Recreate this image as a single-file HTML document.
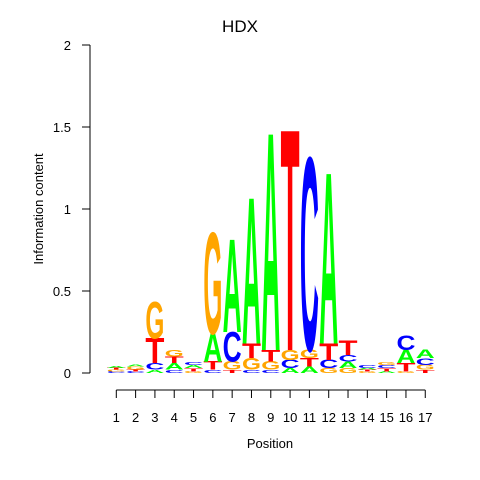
<!DOCTYPE html>
<html><head><meta charset="utf-8"><style>
html,body{margin:0;padding:0;background:#fff}
svg{display:block;font-family:"Liberation Sans",sans-serif}
</style></head><body>
<svg id="chart" width="480" height="480" viewBox="0 0 480 480" xmlns="http://www.w3.org/2000/svg">
<text x="240" y="32" text-anchor="middle" font-size="17">HDX</text>
<g id="yaxis"></g>
<g id="xaxis"></g>
<text x="270" y="448" text-anchor="middle" font-size="13">Position</text>
<text transform="translate(43,209) rotate(-90)" text-anchor="middle" font-size="13">Information content</text>
<g id="logo"></g>
</svg>
<script>
const positions = [1,2,3,4,5,6,7,8,9,10,11,12,13,14,15,16,17];
// stacks bottom-to-top: [letter, bits]
const stacks = [
 [["C",0.01],["G",0.01],["T",0.01],["A",0.01]],
 [["C",0.01],["T",0.01],["G",0.02],["A",0.01]],
 [["A",0.02],["C",0.04],["T",0.15],["G",0.22]],
 [["C",0.02],["A",0.04],["T",0.04],["G",0.04]],
 [["G",0.01],["T",0.02],["A",0.02],["C",0.02]],
 [["C",0.02],["T",0.05],["A",0.17],["G",0.61]],
 [["T",0.02],["G",0.05],["C",0.18],["A",0.56]],
 [["C",0.02],["G",0.07],["T",0.09],["A",0.88]],
 [["C",0.02],["G",0.05],["T",0.07],["A",1.31]],
 [["A",0.03],["C",0.05],["G",0.06],["T",1.33]],
 [["A",0.04],["T",0.05],["G",0.05],["C",1.16]],
 [["G",0.03],["C",0.05],["T",0.10],["A",1.03]],
 [["G",0.03],["A",0.04],["C",0.04],["T",0.09]],
 [["G",0.01],["T",0.01],["A",0.01],["C",0.02]],
 [["A",0.01],["T",0.02],["C",0.02],["G",0.02]],
 [["G",0.01],["T",0.05],["A",0.08],["C",0.09]],
 [["T",0.02],["G",0.03],["C",0.04],["A",0.05]]
];
const yTicks = [0,0.5,1,1.5,2];
const yTickLabels = ["0","0.5","1","1.5","2"];
const colors = {A:"#00ff00",C:"#0000ff",G:"#ffa500",T:"#ff0000"};
const NS="http://www.w3.org/2000/svg";
const y = v => 373 - v*164;
const x = p => 116.3 + (p-1)*19.31;
const ya = document.getElementById('yaxis'), xa=document.getElementById('xaxis'), logo=document.getElementById('logo');
function mk(tag, attrs, parent){const e=document.createElementNS(NS,tag);for(const k in attrs)e.setAttribute(k,attrs[k]);parent.appendChild(e);return e;}
let l=mk('line',{x1:90,x2:90,y1:y(2),y2:y(0),stroke:'#000'},ya);


yTicks.forEach((t,i)=>{
 const tk=mk('line',{x1:82,x2:90,y1:y(t),y2:y(t),stroke:'#000'},ya);
 
 
 const tx=mk('text',{x:71,y:y(t)+5,'text-anchor':'end','font-size':13},ya);
 tx.textContent=yTickLabels[i];
 
 
});
l=mk('line',{x1:x(1),x2:x(17),y1:390,y2:390,stroke:'#000'},xa);


positions.forEach(p=>{
 const tk=mk('line',{x1:x(p),x2:x(p),y1:390,y2:398,stroke:'#000'},xa);
 
 
 const tx=mk('text',{x:x(p),y:422,'text-anchor':'middle','font-size':13},xa);
 tx.textContent=String(p);
 
 
});
const W=19;
stacks.forEach((st,i)=>{
 let base=0;
 const cx=x(positions[i]);
 st.forEach(([ch,h])=>{
  const yb=y(base), hp=h*164;
  base+=h;
  if(hp<=0) return;
  const sy=hp/68.6, sx=W/72;
  const t=mk('text',{transform:`translate(${cx-W/2},${yb}) scale(${sx},${sy})`,'font-size':100,'font-weight':'bold',fill:colors[ch],textLength:72,lengthAdjust:'spacingAndGlyphs'},logo);
  t.textContent=ch;
  
  
 });
});
</script>
</body></html>
